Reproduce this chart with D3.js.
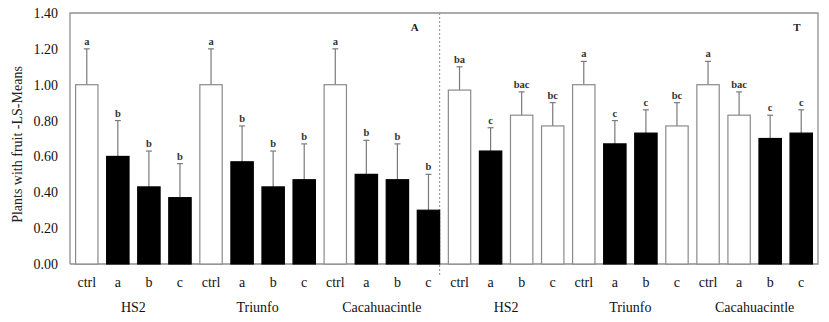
<!DOCTYPE html>
<html>
<head>
<meta charset="utf-8">
<script src="https://cdn.jsdelivr.net/npm/d3@7"></script>
<style>
  body { margin: 0; background: #fff; }
  text { font-family: "Liberation Serif", "Times New Roman", serif; }
</style>
</head>
<body>
<div id="chart"></div>
<script>
// data
var groups = ['HS2', 'Triunfo', 'Cacahuacintle', 'HS2', 'Triunfo', 'Cacahuacintle'];
var treatments = ['ctrl', 'a', 'b', 'c'];
var means = [1.00, 0.60, 0.43, 0.37,  1.00, 0.57, 0.43, 0.47,  1.00, 0.50, 0.47, 0.30,
             0.97, 0.63, 0.83, 0.77,  1.00, 0.67, 0.73, 0.77,  1.00, 0.83, 0.70, 0.73];
var errors = [0.20, 0.20, 0.20, 0.19,  0.20, 0.20, 0.20, 0.20,  0.20, 0.19, 0.20, 0.20,
              0.13, 0.13, 0.13, 0.13,  0.13, 0.13, 0.13, 0.13,  0.13, 0.13, 0.13, 0.13];
var letters = ['a', 'b', 'b', 'b',  'a', 'b', 'b', 'b',  'a', 'b', 'b', 'b',
               'ba', 'c', 'bac', 'bc',  'a', 'c', 'c', 'bc',  'a', 'bac', 'c', 'c'];
// 1 = black bar, 0 = white bar
var filled = [0, 1, 1, 1,  0, 1, 1, 1,  0, 1, 1, 1,
              0, 1, 0, 0,  0, 1, 1, 0,  0, 0, 1, 1];
var panels = ['A', 'T'];
var yTicks = [0, 0.2, 0.4, 0.6, 0.8, 1.0, 1.2, 1.4];

var W = 829, H = 322;
var mLeft = 70, mRight = 818, mTop = 13, mBottom = 264;
var frameColor = '#8f8f8f';

var svg = d3.select('#chart').append('svg')
    .attr('width', W).attr('height', H);

var idx = d3.range(means.length);
var x = d3.scaleBand().domain(idx).range([mLeft, mRight]).paddingInner(0.28).paddingOuter(0.18);
var y = d3.scaleLinear().domain([0, 1.4]).range([mBottom, mTop]);

// frame (left, top, right, bottom)
svg.append('path')
    .attr('d', 'M' + mLeft + ',' + mBottom + 'V' + mTop + 'H' + mRight + 'V' + mBottom + 'H' + mLeft)
    .attr('fill', 'none').attr('stroke', frameColor).attr('stroke-width', 1.3);

// y axis labels
var yAxis = d3.axisLeft(y).tickValues(yTicks).tickFormat(d3.format('.2f')).tickSize(0).tickPadding(12);
var gy = svg.append('g').attr('transform', 'translate(' + mLeft + ',0)').call(yAxis);
gy.select('.domain').remove();
gy.selectAll('text').style('font-size', '14px').style('font-family', '"Liberation Serif", serif').attr('fill', '#111');

svg.append('text')
    .attr('transform', 'translate(22,' + ((mTop + mBottom) / 2 + 6) + ') rotate(-90)')
    .attr('text-anchor', 'middle')
    .style('font-size', '14px').attr('fill', '#222')
    .text('Plants with fruit -LS-Means');

// panel separator
var sepX = x(11) + x.bandwidth();
svg.append('line')
    .attr('x1', sepX).attr('x2', sepX).attr('y1', mTop).attr('y2', mBottom + 13)
    .attr('stroke', frameColor).attr('stroke-width', 1).attr('stroke-dasharray', '2,2');

// error bars
var eb = svg.append('g').attr('stroke', '#7a7a7a').attr('stroke-width', 1.2);
idx.forEach(function(i) {
    var cx = x(i) + x.bandwidth() / 2;
    eb.append('line').attr('x1', cx).attr('x2', cx).attr('y1', y(means[i])).attr('y2', y(means[i] + errors[i]));
    eb.append('line').attr('x1', cx - 3).attr('x2', cx + 3).attr('y1', y(means[i] + errors[i])).attr('y2', y(means[i] + errors[i]));
});

// bars
svg.selectAll('rect.bar')
    .data(idx)
    .enter()
    .append('rect')
    .attr('class', 'bar')
    .attr('x', function(i) { return x(i); })
    .attr('y', function(i) { return y(means[i]); })
    .attr('width', x.bandwidth())
    .attr('height', function(i) { return mBottom - y(means[i]); })
    .attr('fill', function(i) { return filled[i] ? '#000' : '#fff'; })
    .attr('stroke', function(i) { return filled[i] ? '#000' : '#8a8a8a'; })
    .attr('stroke-width', 1.2);

// significance letters
svg.selectAll('text.letter')
    .data(idx)
    .enter()
    .append('text')
    .attr('class', 'letter')
    .attr('x', function(i) { return x(i) + x.bandwidth() / 2; })
    .attr('y', function(i) { return y(means[i] + errors[i]) - 4; })
    .attr('text-anchor', 'middle')
    .style('font-size', '10.5px').style('font-weight', 'bold').attr('fill', '#333')
    .text(function(i) { return letters[i]; });

// treatment labels
svg.selectAll('text.treat')
    .data(idx)
    .enter()
    .append('text')
    .attr('class', 'treat')
    .attr('x', function(i) { return x(i) + x.bandwidth() / 2; })
    .attr('y', 287)
    .attr('text-anchor', 'middle')
    .style('font-size', '14px').attr('fill', '#111')
    .text(function(i) { return treatments[i % 4]; });

// group labels
svg.selectAll('text.group')
    .data(groups)
    .enter()
    .append('text')
    .attr('class', 'group')
    .attr('x', function(d, g) { return (x(g * 4) + x(g * 4 + 3) + x.bandwidth()) / 2; })
    .attr('y', 312)
    .attr('text-anchor', 'middle')
    .style('font-size', '14px').attr('fill', '#111')
    .text(function(d) { return d; });

// panel letters
svg.selectAll('text.panel')
    .data(panels)
    .enter()
    .append('text')
    .attr('class', 'panel')
    .attr('x', function(d, p) { return p === 0 ? sepX - 25 : mRight - 21; })
    .attr('y', 31)
    .attr('text-anchor', 'middle')
    .style('font-size', '11px').style('font-weight', 'bold').attr('fill', '#222')
    .text(function(d) { return d; });
</script>
</body>
</html>
